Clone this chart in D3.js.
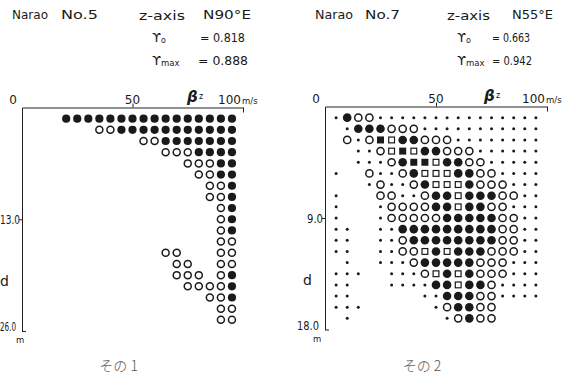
<!DOCTYPE html>
<html>
<head>
<meta charset="utf-8">
<script src="https://cdnjs.cloudflare.com/ajax/libs/d3/7.8.5/d3.min.js"></script>
<style>
  body { margin: 0; background: #fff; }
  svg { display: block; font-family: "DejaVu Sans", sans-serif; }
  .axis path, .axis line { stroke: #222; stroke-width: 1; }
</style>
</head>
<body>
<svg id="chart" width="575" height="381"></svg>
<script>
// symbol codes: F filled circle, O open circle, S filled square, Q open square, . small dot

// Narao No.5
const vel5 = [20, 25, 30, 35, 40, 45, 50, 55, 60, 65, 70, 75, 80, 85, 90, 95];
const depth5 = [1.3, 2.6, 3.9, 5.2, 6.5, 7.8, 9.1, 10.4, 11.7, 13.0, 14.3, 15.6, 16.9, 18.2, 19.5, 20.8, 22.1, 23.4, 24.7];
const grid5 = [
  "FFFFFFFFFFFFFFFF",
  "   OOFFFFFFFFFFF",
  "       OOFFFFFFF",
  "         OOOFFFF",
  "           OOOFF",
  "            OOFF",
  "             OOF",
  "             OOF",
  "              OF",
  "              OF",
  "              OF",
  "              OO",
  "         OO   OO",
  "          OO  OO",
  "          OOO OF",
  "           OOOOF",
  "             OOF",
  "              OO",
  "              OO"
];

// Narao No.7
const vel7 = [5, 10, 15, 20, 25, 30, 35, 40, 45, 50, 55, 60, 65, 70, 75, 80, 85, 90, 95];
const depth7 = [0.9, 1.8, 2.7, 3.6, 4.5, 5.4, 6.3, 7.2, 8.1, 9.0, 9.9, 10.8, 11.7, 12.6, 13.5, 14.4, 15.3, 16.2, 17.1];
const grid7 = [
  ".FOO...............",
  " .FFFOOO...........",
  " O.OSQFFOOO........",
  "  ..OQSQFFOOO......",
  "  ...OFSSQFFOO.....",
  ".  O..OFQQQFFOO....",
  "   .O..OFQQQFOOO...",
  ".   OO..OFFQFFFOO..",
  ".   .OOOOFFQFFOO...",
  ".   .OOOOOFFFFFOO..",
  "..  ..FFFFFFFFFOO..",
  "..  ..OFFFFFFFFOO..",
  "..  ..OOQFQFFFOOO..",
  " .  ...OFFFFFOOO...",
  "...  ...OQFQFOOO...",
  "..   ....FFQFFO....",
  "..      ..FFFOO....",
  "...      .OFFOO    ",
  " .        .OFOO    "
];

const headers = [
  { name: "Narao", no: "No.5", axis: "z-axis", dir: "N90°E", r0: "= 0.818", rmax: "= 0.888" },
  { name: "Narao", no: "No.7", axis: "z-axis", dir: "N55°E", r0: "= 0.663", rmax: "= 0.942" }
];
const depthTicks = [13.0, 9.0];
const depthMax = [26.0, 18.0];
const captions = ["その 1", "その 2"];

const svg = d3.select('#chart');
const ink = '#1a1a1a';

const panels = [
  { vel: vel5, depth: depth5, grid: grid5, head: headers[0], tick: depthTicks[0], dmax: depthMax[0], cap: captions[0],
    xr: [22, 243], yr: [107.5, 331], ox: 0, bx: 187, fr: 4.1, or: 3.5, sq: 7,
    nx: [12, 61, 139, 203, 200, 198], gx: 152,
    hw: [36, 37, 46, 48, 45, 50], tw: 20, mw: 16, mx: 16 },
  { vel: vel7, depth: depth7, grid: grid7, head: headers[1], tick: depthTicks[1], dmax: depthMax[1], cap: captions[1],
    xr: [325, 547], yr: [106.5, 329.5], ox: 303, bx: 484, fr: 4.3, or: 3.6, sq: 7,
    nx: [12, 62, 144, 209, 189, 189], gx: 154,
    hw: [38, 35, 43, 41, 38, 40], tw: 16, mw: 22, mx: 10 }
];

// text with a fixed drawn width
function fitText(sel, x, y, w, s, size) {
  return sel.append('text').attr('x', x).attr('y', y).attr('font-size', size)
    .attr('textLength', w).attr('lengthAdjust', 'spacingAndGlyphs').text(s);
}

function drawPanel(p) {
  const g = svg.append('g');
  const x = d3.scaleLinear().domain([0, 100]).range(p.xr);
  const y = d3.scaleLinear().domain([0, p.dmax]).range(p.yr);
  const fmt = d3.format('.1f');

  // header
  const h = g.append('g').attr('fill', ink);
  const hx = p.ox;
  fitText(h, hx + p.nx[0], 19, p.hw[0], p.head.name, 12.5);
  fitText(h, hx + p.nx[1], 19, p.hw[1], p.head.no, 12.5);
  fitText(h, hx + p.nx[2], 20, p.hw[2], p.head.axis, 12.5);
  fitText(h, hx + p.nx[3], 19, p.hw[3], p.head.dir, 12.5);
  h.append('text').attr('x', hx + p.gx).attr('y', 42).attr('font-size', 13).text('ϒ');
  h.append('text').attr('x', hx + p.gx + 9).attr('y', 43).attr('font-size', 8).text('o');
  fitText(h, hx + p.nx[4], 42, p.hw[4], p.head.r0, 12.5);
  h.append('text').attr('x', hx + p.gx).attr('y', 65).attr('font-size', 13).text('ϒ');
  h.append('text').attr('x', hx + p.gx + 9).attr('y', 66).attr('font-size', 8.5).text('max');
  fitText(h, hx + p.nx[5], 65, p.hw[5], p.head.rmax, 12.5);

  // velocity axis along the top
  g.append('g').attr('class', 'axis').attr('transform', `translate(0,${y(0)})`)
    .call(d3.axisTop(x).tickValues([50]).tickSize(4).tickSizeOuter(0).tickFormat(''));
  g.append('g').attr('class', 'axis').attr('transform', `translate(0,${y(0)})`)
    .call(d3.axisBottom(x).tickValues([100]).tickSize(5).tickFormat(''))
    .select('.domain').remove();

  const lab = g.append('g').attr('fill', ink).attr('font-size', 12);
  lab.append('text').attr('x', x(0) - 5).attr('y', y(0) - 4).attr('text-anchor', 'end').text('0');
  lab.append('text').attr('x', x(50)).attr('y', y(0) - 4).attr('text-anchor', 'middle').text('50');
  lab.append('text').attr('x', x(100) - 2).attr('y', y(0) - 4).attr('text-anchor', 'end').text('100');
  lab.append('text').attr('x', x(100) - 1).attr('y', y(0) - 4).attr('font-size', 8.5).text('m/s');
  lab.append('text').attr('x', p.bx).attr('y', y(0) - 6).attr('font-size', 15)
    .attr('font-style', 'italic').attr('font-weight', 'bold').text('β');
  lab.append('text').attr('x', p.bx + 12).attr('y', y(0) - 9).attr('font-size', 8).text('z');

  // depth axis
  g.append('g').attr('class', 'axis').attr('transform', `translate(${x(0)},0)`)
    .call(d3.axisLeft(y).tickValues([p.tick]).tickSize(3).tickSizeOuter(0).tickFormat(''));
  g.append('g').attr('class', 'axis').attr('transform', `translate(${x(0)},0)`)
    .call(d3.axisRight(y).tickValues([p.dmax]).tickSize(4).tickFormat(''))
    .select('.domain').remove();

  fitText(lab, x(0) - 2 - p.tw, y(p.tick) + 4.5, p.tw, fmt(p.tick), 12);
  fitText(lab, x(0) - 6 - p.mw, y(p.dmax), p.mw, fmt(p.dmax), 12);
  lab.append('text').attr('x', x(0) - 22 + p.mx).attr('y', y(p.dmax) + 12).attr('font-size', 8.5).text('m');
  lab.append('text').attr('x', x(0) - 22).attr('y', y(p.dmax * 0.8)).attr('font-size', 14).text('d');

  // caption
  g.append('text').attr('x', x(35)).attr('y', 371).attr('fill', '#555')
    .attr('font-family', '"Noto Sans CJK JP", sans-serif').attr('font-weight', 300)
    .attr('font-size', 14).text(p.cap);

  // cells
  const cells = p.grid.flatMap((row, i) => [...row].map((c, j) => ({ c, v: p.vel[j], d: p.depth[i] })))
    .filter(d => d.c !== ' ');

  const m = g.append('g');
  m.selectAll('circle.f').data(cells.filter(d => d.c === 'F')).join('circle')
    .attr('cx', d => x(d.v)).attr('cy', d => y(d.d)).attr('r', p.fr).attr('fill', ink);
  m.selectAll('circle.o').data(cells.filter(d => d.c === 'O')).join('circle')
    .attr('cx', d => x(d.v)).attr('cy', d => y(d.d)).attr('r', p.or)
    .attr('fill', 'none').attr('stroke', ink).attr('stroke-width', 1.5);
  m.selectAll('rect.s').data(cells.filter(d => d.c === 'S')).join('rect')
    .attr('x', d => x(d.v) - p.sq / 2).attr('y', d => y(d.d) - p.sq / 2)
    .attr('width', p.sq).attr('height', p.sq).attr('fill', ink);
  m.selectAll('rect.q').data(cells.filter(d => d.c === 'Q')).join('rect')
    .attr('x', d => x(d.v) - p.sq / 2 + 0.6).attr('y', d => y(d.d) - p.sq / 2 + 0.6)
    .attr('width', p.sq - 1.2).attr('height', p.sq - 1.2)
    .attr('fill', 'none').attr('stroke', ink).attr('stroke-width', 1.2);
  m.selectAll('circle.d').data(cells.filter(d => d.c === '.')).join('circle')
    .attr('cx', d => x(d.v)).attr('cy', d => y(d.d)).attr('r', 1.5).attr('fill', ink);
}

panels.forEach(drawPanel);
</script>
</body>
</html>
